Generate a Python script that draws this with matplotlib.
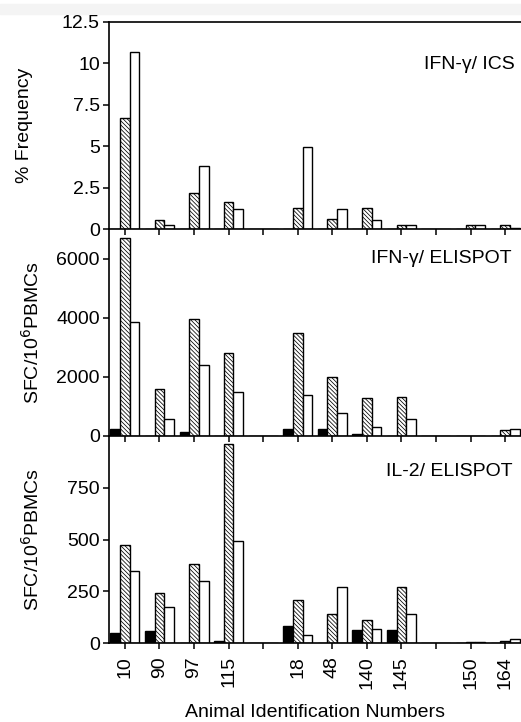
import matplotlib
matplotlib.use("Agg")
import matplotlib.pyplot as plt
import numpy as np

plt.rcParams['font.family'] = ['Liberation Sans', 'DejaVu Sans']
plt.rcParams['hatch.color'] = '#707070'
plt.rcParams['hatch.linewidth'] = 0.55

animals = ["10", "90", "97", "115", "", "18", "48", "140", "145", "", "150", "164"]

ics_black = [0, 0, 0, 0, 0, 0, 0, 0, 0, 0, 0, 0]
ics_hatch = [6.7, 0.52, 2.17, 1.65, 0, 1.29, 0.62, 1.29, 0.24, 0, 0.24, 0.26]
ics_white = [10.7, 0.26, 3.82, 1.23, 0, 4.97, 1.23, 0.52, 0.24, 0, 0.24, 0.06]

ifn_black = [250, 0, 120, 0, 0, 250, 250, 60, 0, 0, 0, 0]
ifn_hatch = [6700, 1580, 3960, 2800, 0, 3470, 2000, 1270, 1320, 0, 0, 200]
ifn_white = [3850, 570, 2410, 1480, 0, 1380, 780, 300, 560, 0, 0, 250]

il2_black = [50, 60, 0, 10, 0, 82, 0, 61, 61, 0, 0, 0]
il2_hatch = [473, 242, 381, 960, 0, 206, 139, 110, 271, 0, 6, 8]
il2_white = [348, 174, 298, 495, 0, 40, 271, 68, 139, 0, 6, 20]

panels = [
    (ics_black, ics_hatch, ics_white, "% Frequency", "IFN-\u03b3/ ICS",
     (0, 12.5), [0, 2.5, 5, 7.5, 10, 12.5], ["0", "2.5", "5", "7.5", "10", "12.5"]),
    (ifn_black, ifn_hatch, ifn_white, "SFC/10$^6$PBMCs", "IFN-\u03b3/ ELISPOT",
     (0, 7000), [0, 2000, 4000, 6000], ["0", "2000", "4000", "6000"]),
    (il2_black, il2_hatch, il2_white, "SFC/10$^6$PBMCs", "IL-2/ ELISPOT",
     (0, 1000), [0, 250, 500, 750], ["0", "250", "500", "750"]),
]
label_x = [-0.184, -0.16, -0.16]
title_pos = [(0.985, 0.797), (0.978, 0.856), (0.98, 0.83)]

W, H = 521, 722
fig = plt.figure(figsize=(W / 100, H / 100), dpi=100)
fig.patches.append(plt.Rectangle((0, 1 - 14 / H), 1, 10 / H, transform=fig.transFigure,
                                 color='#f4f4f4', zorder=0))

left = 109 / W
right = 1.0
top = 1 - 22 / H
bottom = 1 - 643 / H
gs = fig.add_gridspec(3, 1, left=left, right=right, top=top, bottom=bottom, hspace=0)

x = np.arange(len(animals))
w = 0.28
FS = 14
for i, (bk, ht, wt, ylab, title, ylim, yt, ytl) in enumerate(panels):
    ax = fig.add_subplot(gs[i])
    ax.bar(x - w, bk, w, color='black', edgecolor='black', linewidth=1.0, zorder=2)
    ax.bar(x, ht, w, color='white', edgecolor='black', hatch='\\' * 8, linewidth=1.0, zorder=2)
    ax.bar(x + w, wt, w, color='white', edgecolor='black', linewidth=1.0, zorder=2)
    ax.set_xlim(-0.46, 11.46)
    ax.set_ylim(*ylim)
    ax.set_yticks(yt)
    ax.set_yticklabels(ytl, fontsize=FS)
    ax.set_xticks(x)
    if i == 2:
        ax.set_xticklabels(animals, rotation=90, fontsize=FS)
        ax.set_xlabel("Animal Identification Numbers", fontsize=FS, labelpad=11)
    else:
        ax.set_xticklabels([])
    ax.tick_params(axis='both', direction='out', length=4.5, width=1.1, pad=2)
    ax.tick_params(axis='x', pad=5)
    ax.spines['right'].set_visible(False)
    if i > 0:
        ax.spines['top'].set_visible(False)
    for s in ['left', 'bottom', 'top']:
        ax.spines[s].set_linewidth(1.2)
    ax.set_ylabel(ylab, fontsize=FS)
    ax.yaxis.set_label_coords(label_x[i], 0.5)
    tx, ty = title_pos[i]
    ax.text(tx, ty, title, transform=ax.transAxes, ha='right', va='center', fontsize=FS)
    ax.patch.set_alpha(0)
    ax.set_zorder(3 - i)

fig.savefig("out.png", dpi=100)
